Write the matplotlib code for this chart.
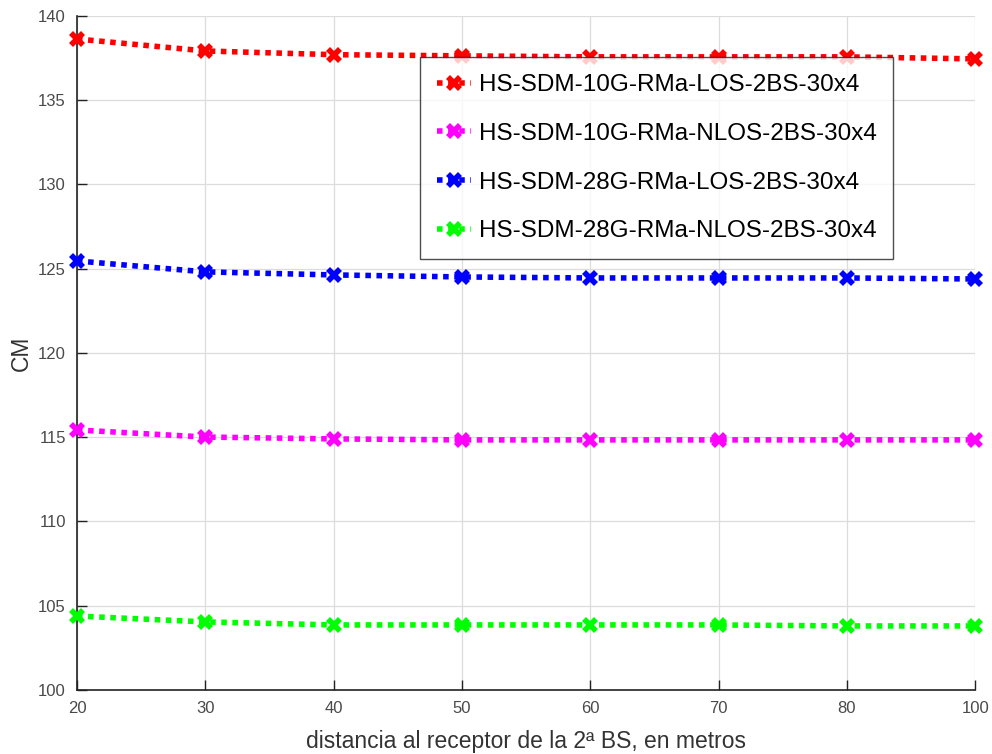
import matplotlib
matplotlib.use('Agg')
import matplotlib.pyplot as plt
import numpy as np

plt.rcParams['font.family'] = ['Liberation Sans', 'DejaVu Sans']

# distancias (eje x categórico, espaciado uniforme)
dist = ['20', '30', '40', '50', '60', '70', '80', '100']

cm_10g_los = [138.63, 137.92, 137.70, 137.63, 137.57, 137.57, 137.57, 137.45]
cm_10g_nlos = [115.43, 115.01, 114.90, 114.84, 114.84, 114.84, 114.84, 114.84]
cm_28g_los = [125.46, 124.81, 124.63, 124.51, 124.45, 124.45, 124.45, 124.39]
cm_28g_nlos = [104.39, 104.04, 103.86, 103.86, 103.86, 103.86, 103.80, 103.80]

labels = ['HS-SDM-10G-RMa-LOS-2BS-30x4',
          'HS-SDM-10G-RMa-NLOS-2BS-30x4',
          'HS-SDM-28G-RMa-LOS-2BS-30x4',
          'HS-SDM-28G-RMa-NLOS-2BS-30x4']
series = [cm_10g_los, cm_10g_nlos, cm_28g_los, cm_28g_nlos]
colors = ['#ff0000', '#ff00ff', '#0000ff', '#00ff00']

fig = plt.figure(figsize=(9.92, 7.54), dpi=100)
ax = fig.add_axes([0.0776, 0.0849, 0.9054, 0.894])

x = np.arange(len(dist))
for y, c, lab in zip(series, colors, labels):
    ax.plot(x, y, linestyle=(0, (1, 1)), linewidth=4, color=c,
            marker='X', markersize=11, markeredgewidth=0, label=lab,
            clip_on=False, zorder=3)

ax.set_xlim(0, len(dist) - 1)
ax.set_ylim(100, 140)
ax.set_xticks(x)
ax.set_xticklabels(dist)
ax.set_yticks(np.arange(100, 141, 5))

ax.grid(True, color='#dcdcdc', linewidth=0.9)
ax.set_axisbelow(True)
for s in ['top', 'right']:
    ax.spines[s].set_visible(False)
for s in ['left', 'bottom']:
    ax.spines[s].set_linewidth(1.2)
    ax.spines[s].set_color('#222222')
ax.tick_params(direction='in', length=7, width=1.0, labelsize=12,
               labelcolor='#4a4a4a', color='#222222', pad=8)

ax.set_xlabel('distancia al receptor de la 2ª BS, en metros', fontsize=16.5,
              color='#333333', labelpad=10)
ax.set_ylabel('CM', fontsize=16.5, color='#333333', labelpad=4)

leg = ax.legend(loc='upper right', bbox_to_anchor=(0.909, 0.939),
                fontsize=17.5, frameon=True, fancybox=False,
                handlelength=1.4, labelspacing=1.1, borderpad=0.7,
                handletextpad=0.3, borderaxespad=0)
leg.get_frame().set_edgecolor('#222222')
leg.get_frame().set_linewidth(1.0)

fig.savefig('out.png', dpi=100)
